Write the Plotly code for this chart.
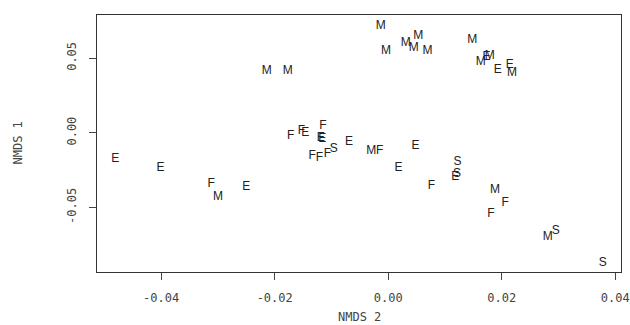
import plotly.graph_objects as go

# NMDS scores
labels = ["E", "E", "F", "M", "E", "M", "M", "F", "F", "E",
          "E", "E", "F", "E", "F", "F", "F", "S", "M", "F",
          "E", "E", "S", "S", "E", "F", "M", "F", "F", "M",
          "S", "S", "M", "M", "M", "M", "M", "M", "M", "E",
          "M", "M", "E", "E", "M"]
nmds2 = [-0.0481, -0.0401, -0.0312, -0.0300, -0.0250, -0.0214, -0.0177, -0.0172, -0.0153, -0.0146,
         -0.0119, -0.0116, -0.0115, -0.0069, -0.0134, -0.0121, -0.0107, -0.0096, -0.0030, -0.0015,
         0.0048, 0.0018, 0.0122, 0.0121, 0.0118, 0.0076, 0.0188, 0.0206, 0.0181, 0.0281,
         0.0295, 0.0378, -0.0013, -0.0004, 0.0031, 0.0053, 0.0045, 0.0069, 0.0148, 0.0173,
         0.0179, 0.0163, 0.0214, 0.0193, 0.0218]
nmds1 = [-0.0173, -0.0238, -0.0345, -0.0429, -0.0363, 0.0415, 0.0415, -0.0023, 0.0011, 0.0000,
         -0.0031, -0.0041, 0.0044, -0.0059, -0.0156, -0.0167, -0.0141, -0.0107, -0.0123, -0.0123,
         -0.0089, -0.0238, -0.0196, -0.0273, -0.0298, -0.0356, -0.0385, -0.0467, -0.0545, -0.0698,
         -0.0658, -0.0873, 0.0714, 0.0550, 0.0600, 0.0647, 0.0567, 0.0550, 0.0622, 0.0509,
         0.0512, 0.0477, 0.0457, 0.0422, 0.0402]

x_ticks = [-0.04, -0.02, 0.0, 0.02, 0.04]
x_ticktext = ["-0.04", "-0.02", "0.00", "0.02", "0.04"]
y_ticks = [-0.05, 0.0, 0.05]
y_ticktext = ["-0.05", "0.00", "0.05"]

fig = go.Figure(go.Scatter(
    x=nmds2, y=nmds1, text=labels, mode="text",
    textposition="middle center",
    textfont=dict(family="Liberation Sans", size=12, color="#222222"),
    hoverinfo="skip",
))

tickfont = dict(family="DejaVu Sans Mono", size=12, color="#444444")

fig.update_layout(
    width=630, height=325,
    margin=dict(l=97, r=9, t=15, b=53, autoexpand=False),
    paper_bgcolor="white", plot_bgcolor="white",
    showlegend=False,
    xaxis=dict(range=[-0.0513, 0.0410], tickvals=x_ticks, ticktext=x_ticktext,
               ticks="outside", ticklen=7, tickcolor="#444444", tickfont=tickfont,
               ticklabelstandoff=8, automargin=False,
               showline=True, linecolor="#333333", linewidth=1, mirror=True,
               showgrid=False, zeroline=False),
    yaxis=dict(range=[-0.0931, 0.0789], tickvals=y_ticks, ticktext=y_ticktext,
               ticks="outside", ticklen=7, tickcolor="#444444", tickfont=tickfont,
               tickangle=-90, ticklabelstandoff=8, automargin=False,
               showline=True, linecolor="#333333", linewidth=1, mirror=True,
               showgrid=False, zeroline=False),
    annotations=[
        dict(text="NMDS 2", xref="paper", yref="paper", x=0.5, y=0,
             xanchor="center", yanchor="middle", yshift=-45, showarrow=False,
             font=tickfont),
        dict(text="NMDS 1", xref="paper", yref="paper", x=0, y=0.5,
             xanchor="center", yanchor="middle", xshift=-80, textangle=-90,
             showarrow=False, font=tickfont),
    ],
)

fig.write_html("out.html",
               config={"displayModeBar": False, "staticPlot": True},
               post_script="document.body.style.margin='0';document.body.style.overflow='hidden';")
